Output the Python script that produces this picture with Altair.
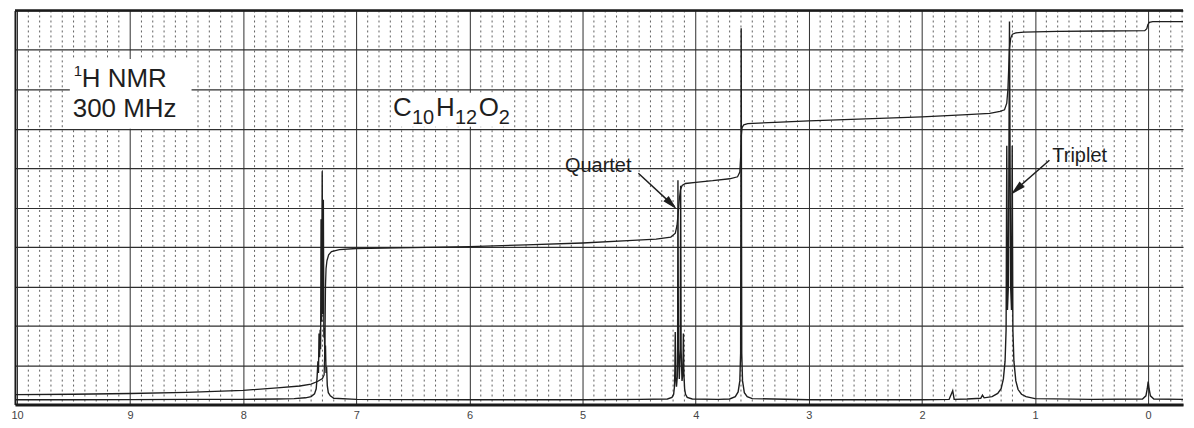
import altair as alt
import pandas as pd

# ---------------- data ----------------
spec_ppm = [10.018, 9.5, 9.0, 8.5, 8.0, 7.7, 7.55, 7.45, 7.40, 7.37, 7.355, 7.347,
            7.340, 7.335, 7.330, 7.325, 7.320, 7.316, 7.312, 7.307, 7.302, 7.297,
            7.292, 7.287, 7.283, 7.278, 7.273, 7.268, 7.263, 7.257, 7.248, 7.23,
            7.20, 7.0, 6.0, 5.0, 4.5, 4.25, 4.21, 4.195, 4.188, 4.184, 4.181, 4.177,
            4.170, 4.163, 4.160, 4.157, 4.153, 4.145, 4.137, 4.133, 4.129, 4.121,
            4.113, 4.109, 4.105, 4.098, 4.09, 4.075, 4.03, 3.8, 3.70, 3.65, 3.625,
            3.61, 3.603, 3.598, 3.593, 3.586, 3.57, 3.545, 3.50, 3.0, 2.5, 2.0,
            1.76, 1.728, 1.715, 1.6, 1.48, 1.465, 1.45, 1.38, 1.33, 1.30, 1.28,
            1.265, 1.256, 1.250, 1.244, 1.236, 1.226, 1.216, 1.208, 1.202, 1.196,
            1.187, 1.17, 1.15, 1.12, 1.08, 1.0, 0.5, 0.05, 0.02, 0.008, 0.0,
            -0.008, -0.02, -0.05, -0.308]
spec_int = [1.2, 1.2, 1.25, 1.3, 1.3, 1.4, 1.5, 1.7, 2.0, 2.7, 4.0, 7.0,
            11.0, 8.0, 18.0, 12.0, 19.0, 14.0, 47.0, 21.0, 59.2, 23.0,
            52.0, 17.0, 19.5, 11.0, 15.0, 8.0, 9.5, 4.8, 3.0, 2.2,
            1.6, 1.3, 1.2, 1.2, 1.3, 1.4, 1.8, 2.6, 4.5, 9.0, 18.4, 7.0,
            4.5, 7.0, 15.0, 56.9, 14.0, 6.5, 14.0, 55.5, 14.0, 6.0,
            8.0, 18.0, 8.0, 4.0, 2.6, 1.8, 1.4, 1.3, 1.4, 2.0, 3.2,
            6.0, 13.0, 95.5, 13.0, 6.0, 3.0, 2.0, 1.5, 1.2, 1.2, 1.2,
            1.3, 3.5, 1.3, 1.4, 1.6, 2.4, 1.7, 2.0, 2.8, 4.0, 6.5,
            11.0, 19.0, 65.7, 24.0, 30.0, 97.2, 30.0, 24.0, 65.7, 19.0,
            11.0, 6.0, 3.8, 2.6, 2.0, 1.5, 1.3, 1.4, 2.2, 4.0, 5.8,
            4.0, 2.2, 1.4, 1.3]

integ_ppm = [10.018, 9.5, 9.0, 8.5, 8.0, 7.7, 7.5, 7.4, 7.34, 7.30, 7.285, 7.278,
             7.273, 7.268, 7.26, 7.245, 7.22, 7.15, 7.0, 6.5, 6.0, 5.5, 5.0, 4.6,
             4.35, 4.22, 4.18, 4.165, 4.155, 4.145, 4.135, 4.12, 4.09, 4.0, 3.85,
             3.70, 3.63, 3.61, 3.602, 3.596, 3.59, 3.575, 3.54, 3.3, 3.0, 2.5, 2.0,
             1.6, 1.4, 1.31, 1.27, 1.25, 1.24, 1.232, 1.226, 1.215, 1.20, 1.17,
             1.1, 0.8, 0.4, 0.03, 0.012, 0.003, -0.01, -0.04, -0.308]
integ_val = [2.5, 2.6, 2.8, 3.1, 3.6, 4.2, 4.7, 5.2, 5.9, 6.6, 7.5, 15.0,
             30.0, 34.5, 36.5, 38.0, 38.8, 39.3, 39.6, 39.8, 40.1, 40.5, 41.0, 41.6,
             42.0, 42.5, 43.5, 45.5, 48.5, 52.0, 54.5, 55.6, 56.1, 56.4, 56.8,
             57.3, 57.8, 59.0, 63.0, 68.5, 70.3, 71.0, 71.3, 71.6, 72.0, 72.5, 73.0,
             73.6, 73.9, 74.4, 74.8, 76.5, 80.0, 86.0, 90.5, 93.0, 94.0, 94.3,
             94.5, 94.7, 94.8, 94.9, 95.4, 96.4, 97.0, 97.2, 97.2]

x_ticks = [10, 9, 8, 7, 6, 5, 4, 3, 2, 1, 0]
y_grid = [0, 10, 20, 30, 40, 50, 60, 70, 80, 90, 100]
minor_ppm = [round(10 - 0.1 * k, 1) for k in range(1, 104) if k % 10 != 0]

# annotations (data units)
box_x = [9.533, 6.694]
box_x2 = [8.457, 5.609]
box_y = [87.7, 79.1]
box_y2 = [70.0, 70.5]

label_text = ["H NMR", "300 MHz"]
label_ppm = [9.427, 9.507]
label_y = [80.6, 73.0]
sup_text = ["1"]
sup_ppm = [9.498]
sup_y = [83.4]

formula_main = ["C", "H", "O"]
formula_main_ppm = [6.676, 6.297, 5.917]
formula_sub = ["10", "12", "2"]
formula_sub_ppm = [6.508, 6.129, 5.741]

arrow_x = [4.507, 0.873]
arrow_y = [58.7, 62.0]
arrow_x2 = [4.190, 1.190]
arrow_y2 = [50.3, 54.0]
head_x = [4.215, 1.163]
head_y = [50.9, 54.6]
head_angle = [45, 136.6]

# ---------------- chart ----------------
W, H = 1171, 395
FONT = "Liberation Sans"
INK = "#1e1e1e"
xs = alt.Scale(domain=[10.018, -0.308], nice=False, zero=False)
ys = alt.Scale(domain=[0, 100], nice=False, zero=False)

spec_df = pd.DataFrame({"ppm": spec_ppm, "v": spec_int, "i": range(len(spec_ppm))})
integ_df = pd.DataFrame({"ppm": integ_ppm, "v": integ_val, "i": range(len(integ_ppm))})
minor_df = pd.DataFrame({"ppm": minor_ppm})
box_df = pd.DataFrame({"ppm": box_x, "x2": box_x2, "v": box_y, "y2": box_y2})
lab_df = pd.DataFrame({"t": label_text, "ppm": label_ppm, "v": label_y})
sup_df = pd.DataFrame({"t": sup_text, "ppm": sup_ppm, "v": sup_y})
fm_df = pd.DataFrame({"t": formula_main, "ppm": formula_main_ppm, "v": [73.3] * 3})
fs_df = pd.DataFrame({"t": formula_sub, "ppm": formula_sub_ppm, "v": [71.3] * 3})
arr_df = pd.DataFrame({"ppm": arrow_x, "v": arrow_y, "x2": arrow_x2, "y2": arrow_y2})
head_df = pd.DataFrame({"ppm": head_x, "v": head_y, "a": head_angle})
q_df = pd.DataFrame({"t": ["Quartet"], "ppm": [4.568], "v": [58.9]})
t_df = pd.DataFrame({"t": ["Triplet"], "ppm": [0.847], "v": [61.5]})
top_df = pd.DataFrame({"v": [100]})

x_axis = alt.Axis(values=x_ticks, grid=True, gridColor="#2e2e2e", gridWidth=1,
                  ticks=False, domainColor="#1a1a1a", domainWidth=3,
                  labelFont=FONT, labelFontSize=11, labelColor="#444",
                  labelPadding=5, title=None, format="d")
y_axis = alt.Axis(values=y_grid, grid=True, gridColor="#2e2e2e", gridWidth=1.2,
                  ticks=False, labels=False, domainColor="#1a1a1a", domainWidth=2,
                  title=None)

X = alt.X("ppm:Q", scale=xs, axis=x_axis, title=None)
Y = alt.Y("v:Q", scale=ys, axis=y_axis, title=None)

minor = alt.Chart(minor_df).mark_rule(color="#606060", strokeWidth=1, strokeDash=[2, 3]).encode(
    x=X, y=alt.value(0), y2=alt.value(H))

boxes = alt.Chart(box_df).mark_rect(color="white").encode(x=X, x2="x2:Q", y=Y, y2="y2:Q")

top = alt.Chart(top_df).mark_rule(color="#1a1a1a", strokeWidth=2.5).encode(y=Y)

spec = alt.Chart(spec_df).mark_line(color=INK, strokeWidth=1.4).encode(x=X, y=Y, order="i:Q")

integ = alt.Chart(integ_df).mark_line(color=INK, strokeWidth=1.3).encode(x=X, y=Y, order="i:Q")

def txt(df, size, align):
    return alt.Chart(df).mark_text(font=FONT, fontSize=size, color=INK, align=align,
                                   baseline="alphabetic").encode(x=X, y=Y, text="t:N")

labels = txt(lab_df, 26, "left")
sup = txt(sup_df, 15, "left")
fmain = txt(fm_df, 26, "left")
fsub = txt(fs_df, 20, "left")
qtext = txt(q_df, 20, "right")
ttext = txt(t_df, 20, "left")

shafts = alt.Chart(arr_df).mark_rule(color=INK, strokeWidth=1.5).encode(
    x=X, x2="x2:Q", y=Y, y2="y2:Q")

heads = alt.Chart(head_df).mark_point(shape="M1,0L-1,-0.5L-1,0.5Z", filled=True,
                                      color=INK, opacity=1, size=230).encode(
    x=X, y=Y, angle=alt.Angle("a:Q", scale=None))

chart = alt.layer(minor, boxes, top, spec, integ, labels, sup, fmain, fsub, qtext, ttext,
                  shafts, heads).properties(
    width=W, height=H,
    padding={"left": 2, "top": 0, "right": 0, "bottom": 0},
    background="white",
).configure_view(stroke=None)

chart.save("out.html", embed_options={"renderer": "svg", "actions": False})
